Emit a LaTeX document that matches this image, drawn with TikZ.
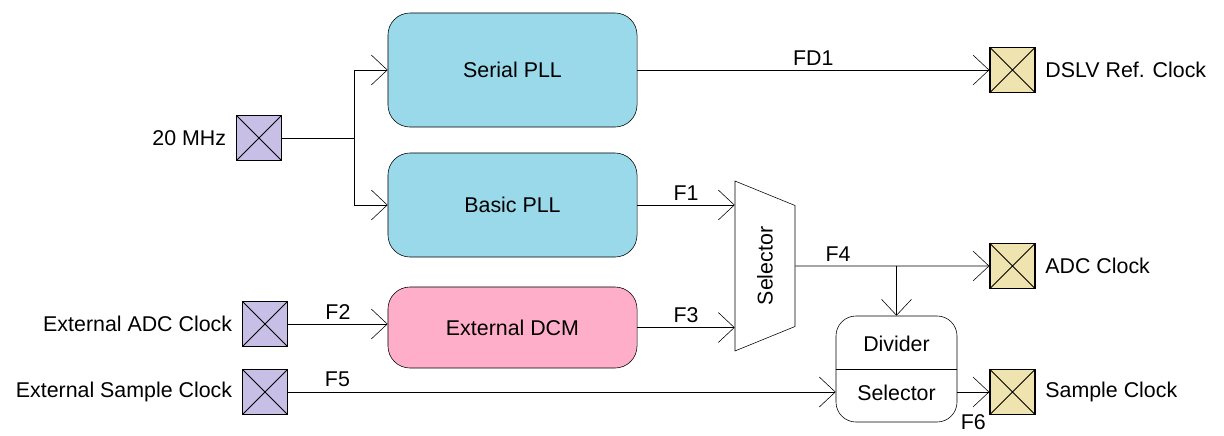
\documentclass[tikz,border=0pt]{standalone}
\usepackage{fontspec}
\setmainfont{Liberation Sans}
\usetikzlibrary{arrows.meta,positioning,shapes.geometric}
\definecolor{pllblue}{HTML}{99D9EA}
\definecolor{dcmpink}{HTML}{FFAEC9}
\definecolor{inpad}{HTML}{C8BFE7}
\definecolor{outpad}{HTML}{EFE4B0}
\tikzset{>={Straight Barb[length=4mm,width=7.5mm]},line width=0.7pt}
\tikzset{
    block/.style={draw,rounded corners=0.55cm,minimum width=6.225cm,font=\fontsize{15.2}{18}\selectfont},
    pad/.style={draw,line width=0.9pt,minimum size=1.125cm,inner sep=0pt,
        path picture={\draw[line width=0.6pt] (path picture bounding box.south west) -- (path picture bounding box.north east)
            (path picture bounding box.north west) -- (path picture bounding box.south east);}},
    lbl/.style={font=\fontsize{15.2}{18}\selectfont}
}

\begin{document}
\begin{tikzpicture}[x=0.025cm,y=-0.025cm,label distance=0.12cm,every label/.style={lbl}]
    \useasboundingbox (0,0) rectangle (1224,435);
    % inputs
    \node[pad,fill=inpad,label=left:20 MHz] (mhz) at (259,138) {};
    \node[pad,fill=inpad,label=left:External ADC Clock] (eadc) at (265,324) {};
    \node[pad,fill=inpad,label=left:External Sample Clock] (esc) at (265,392) {};
    % blocks
    \node[block,fill=pllblue,minimum height=2.85cm] (spll) at (512.5,70) {Serial PLL};
    \node[block,fill=pllblue,minimum height=2.6cm] (bpll) at (512.5,205) {Basic PLL};
    \node[block,fill=dcmpink,minimum height=2.025cm] (edcm) at (512.5,327.5) {External DCM};
    \node[draw,trapezium,shape border rotate=180,rotate=90,trapezium stretches=true,
        minimum width=4.25cm,minimum height=1.5cm,trapezium angle=54.7,lbl] (sel) at (765,266) {Selector};
    \node[draw,rounded corners=0.5cm,minimum width=3.025cm,minimum height=2.65cm] (div) at (896.5,369) {};
    \draw (div.west) -- (div.east);
    \node[lbl] (dtxt) at (896.5,344) {Divider};
    \node[lbl] (stxt) at (896.5,393) {Selector};
    % outputs
    \node[pad,fill=outpad,label=right:DSLV Ref. Clock] (dslv) at (1012.5,70) {};
    \node[pad,fill=outpad,label=right:ADC Clock] (adc) at (1012.5,266) {};
    \node[pad,fill=outpad,label=right:Sample Clock] (spc) at (1012.5,392) {};
    % connections
    \coordinate (br) at (354,138);
    \draw (mhz) -- (br);
    \draw[->] (br) |- (spll);
    \draw[->] (br) |- (bpll);
    \draw[->] (spll) -- node[lbl,above] {FD1} (dslv);
    \draw[->] (bpll.east) -- node[lbl,above] {F1} (bpll.east -| sel.north);
    \draw[->] (eadc) -- node[lbl,above] {F2} (eadc -| edcm.west);
    \draw[->] (edcm.east) -- node[lbl,above] {F3} (edcm.east -| sel.north);
    \draw[->] (sel.south) -- node[lbl,above,pos=0.22] {F4} (adc);
    \coordinate (br2) at (sel.south -| div.north);
    \draw[->] (br2) -- (div.north);
    \draw[->] (esc) -- node[lbl,above,pos=0.09] {F5} (esc -| div.west);
    \draw[->] (esc -| div.east) -- node[lbl,below=0.45cm] {F6} (spc);
\end{tikzpicture}
\end{document}
